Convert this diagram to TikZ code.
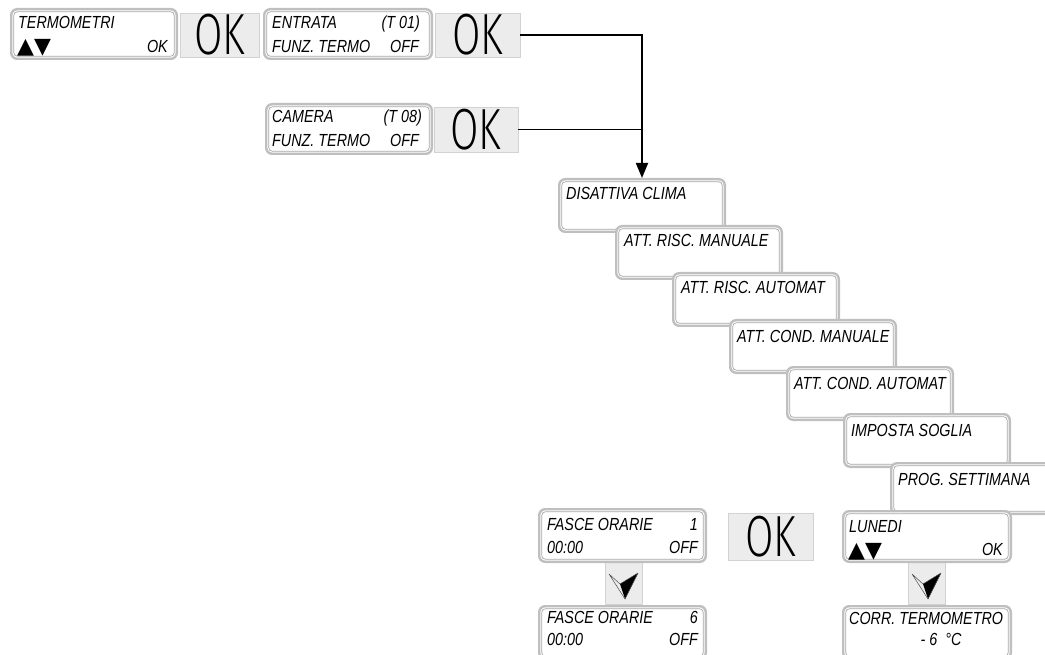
\documentclass[tikz,border=0pt]{standalone}
\usepackage{fontspec}
\setmainfont{Liberation Sans}
\newfontfamily\lcdfont{Liberation Sans}[FakeStretch=0.82]
\newfontfamily\okfont{Fira Sans Light}[FakeStretch=0.71]
\newfontfamily\symfont{DejaVu Sans}
\usetikzlibrary{arrows.meta}
\tikzset{
  disp/.style={draw=gray!50, line width=2.4pt, rounded corners=6pt, fill=white, inner sep=0pt,
    path picture={\draw[gray!70, line width=0.7pt, rounded corners=3.5pt]
      ([shift={(2.6pt,2.6pt)}]path picture bounding box.south west) rectangle
      ([shift={(-2.6pt,-2.6pt)}]path picture bounding box.north east);}},
  okbox/.style={fill=gray!15, draw=gray!35, line width=0.5pt, inner sep=0pt,
    font=\okfont\fontsize{58}{58}\selectfont},
  keybox/.style={fill=gray!15, draw=gray!35, line width=0.5pt, inner sep=0pt},
  lcd/.style={font=\lcdfont\itshape\fontsize{17.5}{17.5}\selectfont, inner sep=0pt},
  tri/.style={font=\symfont\fontsize{22}{22}\selectfont, inner sep=0pt},
  conn/.style={line width=1.8pt, black},
}
\newcommand\navsym[1]{%
  \begin{scope}[shift={(#1.center)}]
    \fill[black] (-3.5,1) -- (14.5,-10) -- (1.5,16) -- cycle;
    \draw[gray!60!black, line width=0.5pt, line join=round]
      (-3.5,1) -- (-14.5,-9) -- (1.5,16) -- (14.5,-10) -- cycle;
  \end{scope}}
\begin{document}
\begin{tikzpicture}[x=1pt, y=-1pt]
\path[use as bounding box, clip] (0,0) rectangle (1045,655);

% ---- top row
\node[disp, minimum width=165.6pt, minimum height=49.6pt] (term) at (94,34) {};
\node[lcd, anchor=base west] (term1) at (18,29) {TERMOMETRI};
\node[tri, anchor=base west] (term2) at (17,54) {▲▼};
\node[lcd, anchor=base east] (term3) at (168,53) {OK};
\node[okbox, minimum width=79pt, minimum height=44pt] (ok1) at (219.5,35) {OK};

\node[disp, minimum width=167.6pt, minimum height=49.6pt] (entr) at (348,34) {};
\node[lcd, anchor=base west] (entr1) at (272,29) {ENTRATA};
\node[lcd, anchor=base east] (entr2) at (420,29) {(T 01)};
\node[lcd, anchor=base west] (entr3) at (272,53) {FUNZ. TERMO};
\node[lcd, anchor=base east] (entr4) at (419,53) {OFF};
\node[okbox, minimum width=85pt, minimum height=44pt] (ok2) at (477.5,35) {OK};

\node[disp, minimum width=165.6pt, minimum height=49.6pt] (cam) at (349,129) {};
\node[lcd, anchor=base west] (cam1) at (272,123) {CAMERA};
\node[lcd, anchor=base east] (cam2) at (422,123) {(T 08)};
\node[lcd, anchor=base west] (cam3) at (272,147) {FUNZ. TERMO};
\node[lcd, anchor=base east] (cam4) at (419,147) {OFF};
\node[okbox, minimum width=84pt, minimum height=45pt] (ok3) at (476,129.5) {OK};

% ---- menu cascade
\node[disp, minimum width=165.6pt, minimum height=52.6pt] (dis) at (642,205.5) {};
\node[lcd, anchor=base west] (dist) at (566,200) {DISATTIVA CLIMA};
\node[disp, minimum width=165.6pt, minimum height=52.6pt] (rm) at (699,252.5) {};
\node[lcd, anchor=base west] (rmt) at (624,247) {ATT. RISC. MANUALE};
\node[disp, minimum width=165.6pt, minimum height=52.6pt] (ra) at (756,299.5) {};
\node[lcd, anchor=base west] (rat) at (681,294) {ATT. RISC. AUTOMAT};
\node[disp, minimum width=165.6pt, minimum height=52.6pt] (cm) at (813,346.5) {};
\node[lcd, anchor=base west] (cmt) at (737,342) {ATT. COND. MANUALE};
\node[disp, minimum width=165.6pt, minimum height=52.6pt] (ca) at (870,393.5) {};
\node[lcd, anchor=base west] (cat) at (794,389) {ATT. COND. AUTOMAT};
\node[disp, minimum width=165.6pt, minimum height=52.6pt] (is) at (927,440.5) {};
\node[lcd, anchor=base west] (ist) at (851,436) {IMPOSTA SOGLIA};
\node[disp, minimum width=167.6pt, minimum height=50.6pt] (ps) at (975,488.5) {};
\node[lcd, anchor=base west] (pst) at (898,485) {PROG. SETTIMANA};

% ---- bottom right
\node[keybox, minimum width=37pt, minimum height=42pt] (k2) at (926.5,583) {};
\navsym{k2}
\node[disp, minimum width=167.6pt, minimum height=50.6pt] (lun) at (927,536.5) {};
\node[lcd, anchor=base west] (lun1) at (849,532) {LUNEDI};
\node[tri, anchor=base west] (lun2) at (848,557) {▲▼};
\node[lcd, anchor=base east] (lun3) at (1003,555) {OK};
\node[disp, minimum width=167.6pt, minimum height=52.6pt] (corr) at (927,632.5) {};
\node[lcd, anchor=base west] (corr1) at (849,624) {CORR. TERMOMETRO};
\node[lcd, anchor=base] (corr2) at (941,645) {- 6\ \ °C};

% ---- bottom left
\node[keybox, minimum width=37pt, minimum height=42pt] (k1) at (623.5,583) {};
\navsym{k1}
\node[disp, minimum width=166.6pt, minimum height=52.6pt] (fa1) at (622.5,535.5) {};
\node[lcd, anchor=base west] (fa1a) at (547,530) {FASCE ORARIE};
\node[lcd, anchor=base east] (fa1b) at (698,530) {1};
\node[lcd, anchor=base west] (fa1c) at (547,553) {00:00};
\node[lcd, anchor=base east] (fa1d) at (698,553) {OFF};
\node[disp, minimum width=166.6pt, minimum height=52.6pt] (fa6) at (622.5,632.5) {};
\node[lcd, anchor=base west] (fa6a) at (547,623) {FASCE ORARIE};
\node[lcd, anchor=base east] (fa6b) at (698,623) {6};
\node[lcd, anchor=base west] (fa6c) at (547,645) {00:00};
\node[lcd, anchor=base east] (fa6d) at (698,645) {OFF};
\node[okbox, minimum width=85pt, minimum height=47pt] (ok4) at (770.5,536.5) {OK};

% ---- connectors
\draw[conn, -{Triangle[length=15pt, width=12pt]}] (ok2.east) -| (dis.north);
\draw[conn] (ok3.east) -- (ok3.east -| dis.north);
\end{tikzpicture}
\end{document}
